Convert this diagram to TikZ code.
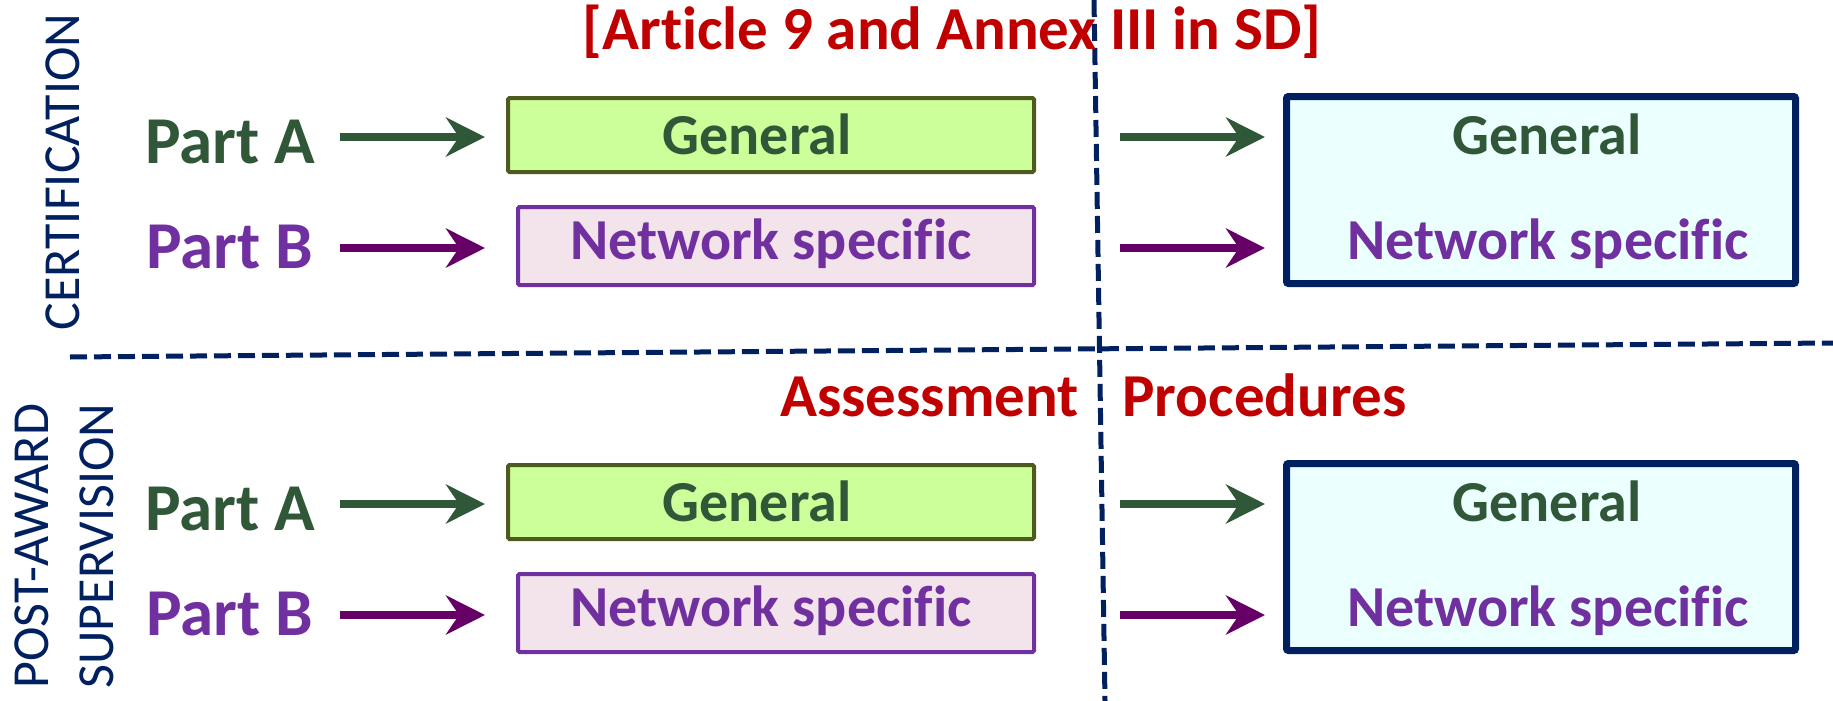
\documentclass[tikz,border=0pt]{standalone}
\usepackage{fontspec}
\setmainfont{Carlito}[Ligatures={NoCommon}]
\usetikzlibrary{arrows.meta}
\definecolor{partgreen}{HTML}{2F5738}
\definecolor{partpurple}{HTML}{7030A0}
\definecolor{arrowpurple}{HTML}{660066}
\definecolor{headred}{HTML}{C00000}
\definecolor{navy}{HTML}{002060}
\definecolor{genfill}{HTML}{CCFF99}
\definecolor{genborder}{HTML}{4F5B1E}
\definecolor{netfill}{HTML}{F2E4EA}
\definecolor{outfill}{HTML}{EBFFFF}
\tikzset{
  sidelabel/.style={text=navy, inner sep=0, rotate=90, font=\fontsize{52}{65}\selectfont, align=left},
  partA/.style={text=partgreen, inner sep=0, anchor=base, font=\bfseries\fontsize{67}{80}\selectfont},
  partB/.style={partA, text=partpurple},
  boxtextA/.style={text=partgreen, inner sep=0, anchor=base, font=\bfseries\fontsize{58}{70}\selectfont},
  boxtextB/.style={boxtextA, text=partpurple},
  heading/.style={text=headred, inner sep=0, anchor=base, font=\bfseries\fontsize{61}{73}\selectfont},
  genbox/.style={draw=genborder, fill=genfill, line width=4pt, rounded corners=1.5pt,
    minimum width=526pt, minimum height=74pt, inner sep=0},
  netbox/.style={draw=partpurple, fill=netfill, line width=4pt, rounded corners=1.5pt,
    minimum width=516pt, minimum height=78pt, inner sep=0},
  outbox/.style={draw=navy, fill=outfill, line width=7pt, rounded corners=2pt,
    minimum width=509pt, minimum height=187pt, inner sep=0},
  arrA/.style={draw=partgreen, line width=8pt, -{Stealth[length=39pt, width=39pt, inset=13pt]}},
  arrB/.style={arrA, draw=arrowpurple},
  divider/.style={draw=navy, line width=5pt, dash pattern=on 17pt off 7pt}
}
\begin{document}
\begin{tikzpicture}[x=1pt, y=-1pt]
\useasboundingbox (0,0) rectangle (1833,701);

% dividing lines between the quadrants
\coordinate (hL) at (70,357);
\coordinate (hR) at (1833,343);
\coordinate (vT) at (1094,0);
\coordinate (vB) at (1105,701);
\draw[divider] (hL) -- (hR);
\draw[divider] (vT) -- (vB);

% headings
\node[heading] (title) at (952,50) {[Article 9 and Annex III in SD]};
\node[heading] (assess) at (929.5,416) {Assessment};
\node[heading] (proc) at (1264.5,416) {Procedures};

% side labels
\node[sidelabel] (cert) at (63,172) {CERTIFICATION};
\node[sidelabel] (post) at (64,546) {POST-AWARD\\SUPERVISION};

% the two rows: certification (offset 0) and post-award supervision (offset 367)
\foreach \r/\dy in {1/0, 2/367} {
  \node[partA] (pa\r) at (230.5,163+\dy) {Part A};
  \node[partB] (pb\r) at (230,268+\dy) {Part B};

  \node[genbox] (gen\r) at (771,135+\dy) {};
  \node[boxtextA] (gent\r) at (757,154+\dy) {General};
  \node[netbox] (net\r) at (776,246+\dy) {};
  \node[boxtextB] (nett\r) at (771,259+\dy) {Network specific};

  \node[outbox] (out\r) at (1541,190+\dy) {};
  \node[boxtextA] (outg\r) at (1547,154+\dy) {General};
  \node[boxtextB] (outn\r) at (1548,259+\dy) {Network specific};

  \coordinate (aAs\r) at (340,137+\dy);
  \coordinate (aAe\r) at (485,137+\dy);
  \coordinate (aBs\r) at (340,248+\dy);
  \coordinate (aBe\r) at (485,248+\dy);
  \coordinate (cAs\r) at (1120,137+\dy);
  \coordinate (cAe\r) at (1265,137+\dy);
  \coordinate (cBs\r) at (1120,248+\dy);
  \coordinate (cBe\r) at (1265,248+\dy);
  \draw[arrA] (aAs\r) -- (aAe\r);
  \draw[arrB] (aBs\r) -- (aBe\r);
  \draw[arrA] (cAs\r) -- (cAe\r);
  \draw[arrB] (cBs\r) -- (cBe\r);
}
\end{tikzpicture}
\end{document}
